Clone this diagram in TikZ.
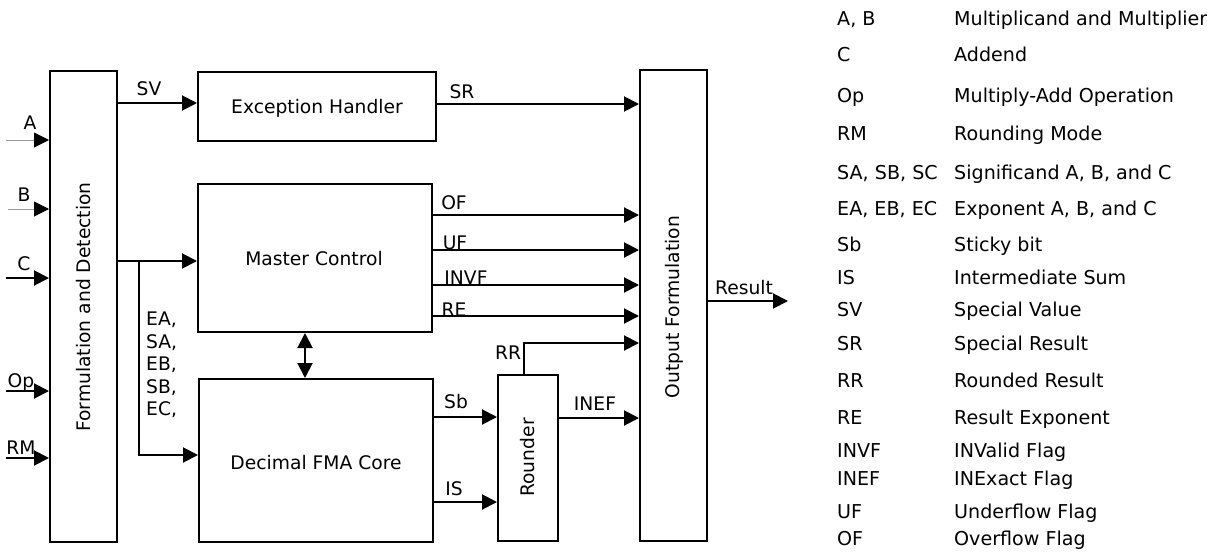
\documentclass[tikz,border=0pt]{standalone}
\usepackage{fontspec}
\setmainfont{DejaVu Sans}
\usetikzlibrary{arrows.meta,calc}
\begin{document}
\begin{tikzpicture}[x=1pt,y=-1pt,
  font=\fontsize{18.7}{22}\selectfont,
  blk/.style={draw=black,line width=2pt,inner sep=0pt,minimum width=#1},
  arr/.style={line width=2pt,-{Triangle[length=15pt,width=15pt,black]}},
  thinarr/.style={line width=1pt,draw=gray!80,-{Triangle[length=15pt,width=15pt,black]}},
  lbl/.style={inner sep=0pt},
  leg/.style={anchor=base west,inner sep=0pt,font=\fontsize{19.1}{22}\selectfont}]
\useasboundingbox (0,0) rectangle (1207,552);
% blocks
\node[blk=67pt,minimum height=471pt] (fd) at (83.5,306.5) {};
\node[rotate=90,lbl] (fdt) at (84,307) {Formulation and Detection};
\node[blk=238pt,minimum height=69pt] (eh) at (317,106.5) {};
\node[lbl] (eht) at (317,108) {Exception Handler};
\node[blk=234pt,minimum height=148pt] (mc) at (315,258) {};
\node[lbl] (mct) at (314,259) {Master Control};
\node[blk=234pt,minimum height=163pt] (core) at (316,460.5) {};
\node[lbl] (coret) at (316,463) {Decimal FMA Core};
\node[blk=60pt,minimum height=166pt] (rd) at (528,458) {};
\node[rotate=90,lbl] (rdt) at (528,457.5) {Rounder};
\node[blk=67pt,minimum height=471pt] (of) at (673.5,305.5) {};
\node[rotate=90,lbl] (oft) at (674,307) {Output Formulation};
% free ends
\coordinate (inA) at (6,140);
\coordinate (inB) at (8,209);
\coordinate (inC) at (6,278);
\coordinate (inOp) at (6,391);
\coordinate (inRM) at (6,458);
\coordinate (res) at (788,301);
\coordinate (br) at (139,261);
\coordinate (rrc) at (524,343);
% inputs
\draw[thinarr] (inA) -- (fd.west |- inA);
\draw[thinarr] (inB) -- (fd.west |- inB);
\draw[arr] (inC) -- (fd.west |- inC);
\draw[arr] (inOp) -- (fd.west |- inOp);
\draw[arr] (inRM) -- (fd.west |- inRM);
\node[lbl] (lA) at (30,123) {A};
\node[lbl] (lB) at (24,195) {B};
\node[lbl] (lC) at (24,264) {C};
\node[lbl] (lOp) at (21,382) {Op};
\node[lbl] (lRM) at (21,448) {RM};
% connections
\draw[arr] (fd.east |- 0,103) -- (eh.west |- 0,103);
\node[lbl] (lSV) at (149,89) {SV};
\draw[arr] (eh.east |- 0,104) -- (of.west |- 0,104);
\node[lbl] (lSR) at (462,92) {SR};
\draw[arr] (fd.east |- br) -- (mc.west |- br);
\draw[arr] (br) -- (br |- 0,455) -- (core.west |- 0,455);
\node[lbl,anchor=north west,align=left,font=\fontsize{18.7}{22.5}\selectfont] (lEA) at (146,312) {EA,\\SA,\\EB,\\SB,\\EC,};
\draw[line width=2pt,{Triangle[length=15pt,width=15pt]}-{Triangle[length=15pt,width=15pt]}] (mc.south -| 305,0) -- (core.north -| 305,0);
\draw[arr] (mc.east |- 0,215) -- (of.west |- 0,215);
\node[lbl] (lOF) at (454,203) {OF};
\draw[arr] ([xshift=-2pt]mc.east |- 0,250) -- (of.west |- 0,250);
\node[lbl] (lUF) at (455,243) {UF};
\draw[arr] ([xshift=-2pt]mc.east |- 0,285) -- (of.west |- 0,285);
\node[lbl] (lINVF) at (466,278) {INVF};
\draw[arr] ([xshift=-2pt]mc.east |- 0,316) -- (of.west |- 0,316);
\node[lbl] (lRE) at (454,310) {RE};
\draw[arr] (rd.north -| rrc) -- (rrc) -- (of.west |- rrc);
\node[lbl] (lRR) at (508,353) {RR};
\draw[arr] (core.east |- 0,417) -- (rd.west |- 0,417);
\node[lbl] (lSb) at (456,402) {Sb};
\draw[arr] (core.east |- 0,502) -- (rd.west |- 0,502);
\node[lbl] (lIS) at (454,489) {IS};
\draw[arr] (rd.east |- 0,418) -- (of.west |- 0,418);
\node[lbl] (lINEF) at (595,404) {INEF};
\draw[arr] (of.east |- res) -- (res);
\node[lbl] (lRes) at (744,288) {Result};
% legend
\foreach \k/\a/\b/\y in {1/{A, B}/{Multiplicand and Multiplier}/18,
  2/C/Addend/54,
  3/Op/{Multiply-Add Operation}/95,
  4/RM/{Rounding Mode}/133,
  5/{SA, SB, SC}/{Significand A, B, and C}/172,
  6/{EA, EB, EC}/{Exponent A, B, and C}/208,
  7/Sb/{Sticky bit}/244,
  8/IS/{Intermediate Sum}/277,
  9/SV/{Special Value}/309,
  10/SR/{Special Result}/343,
  11/RR/{Rounded Result}/380,
  12/RE/{Result Exponent}/417,
  13/INVF/{INValid Flag}/450,
  14/INEF/{INExact Flag}/478,
  15/UF/{Underflow Flag}/511,
  16/OF/{Overflow Flag}/538}{
  \node[leg] (key\k) at (837,\y+7) {\a};
  \node[leg] (def\k) at (954,\y+7) {\b};
}
\end{tikzpicture}
\end{document}
